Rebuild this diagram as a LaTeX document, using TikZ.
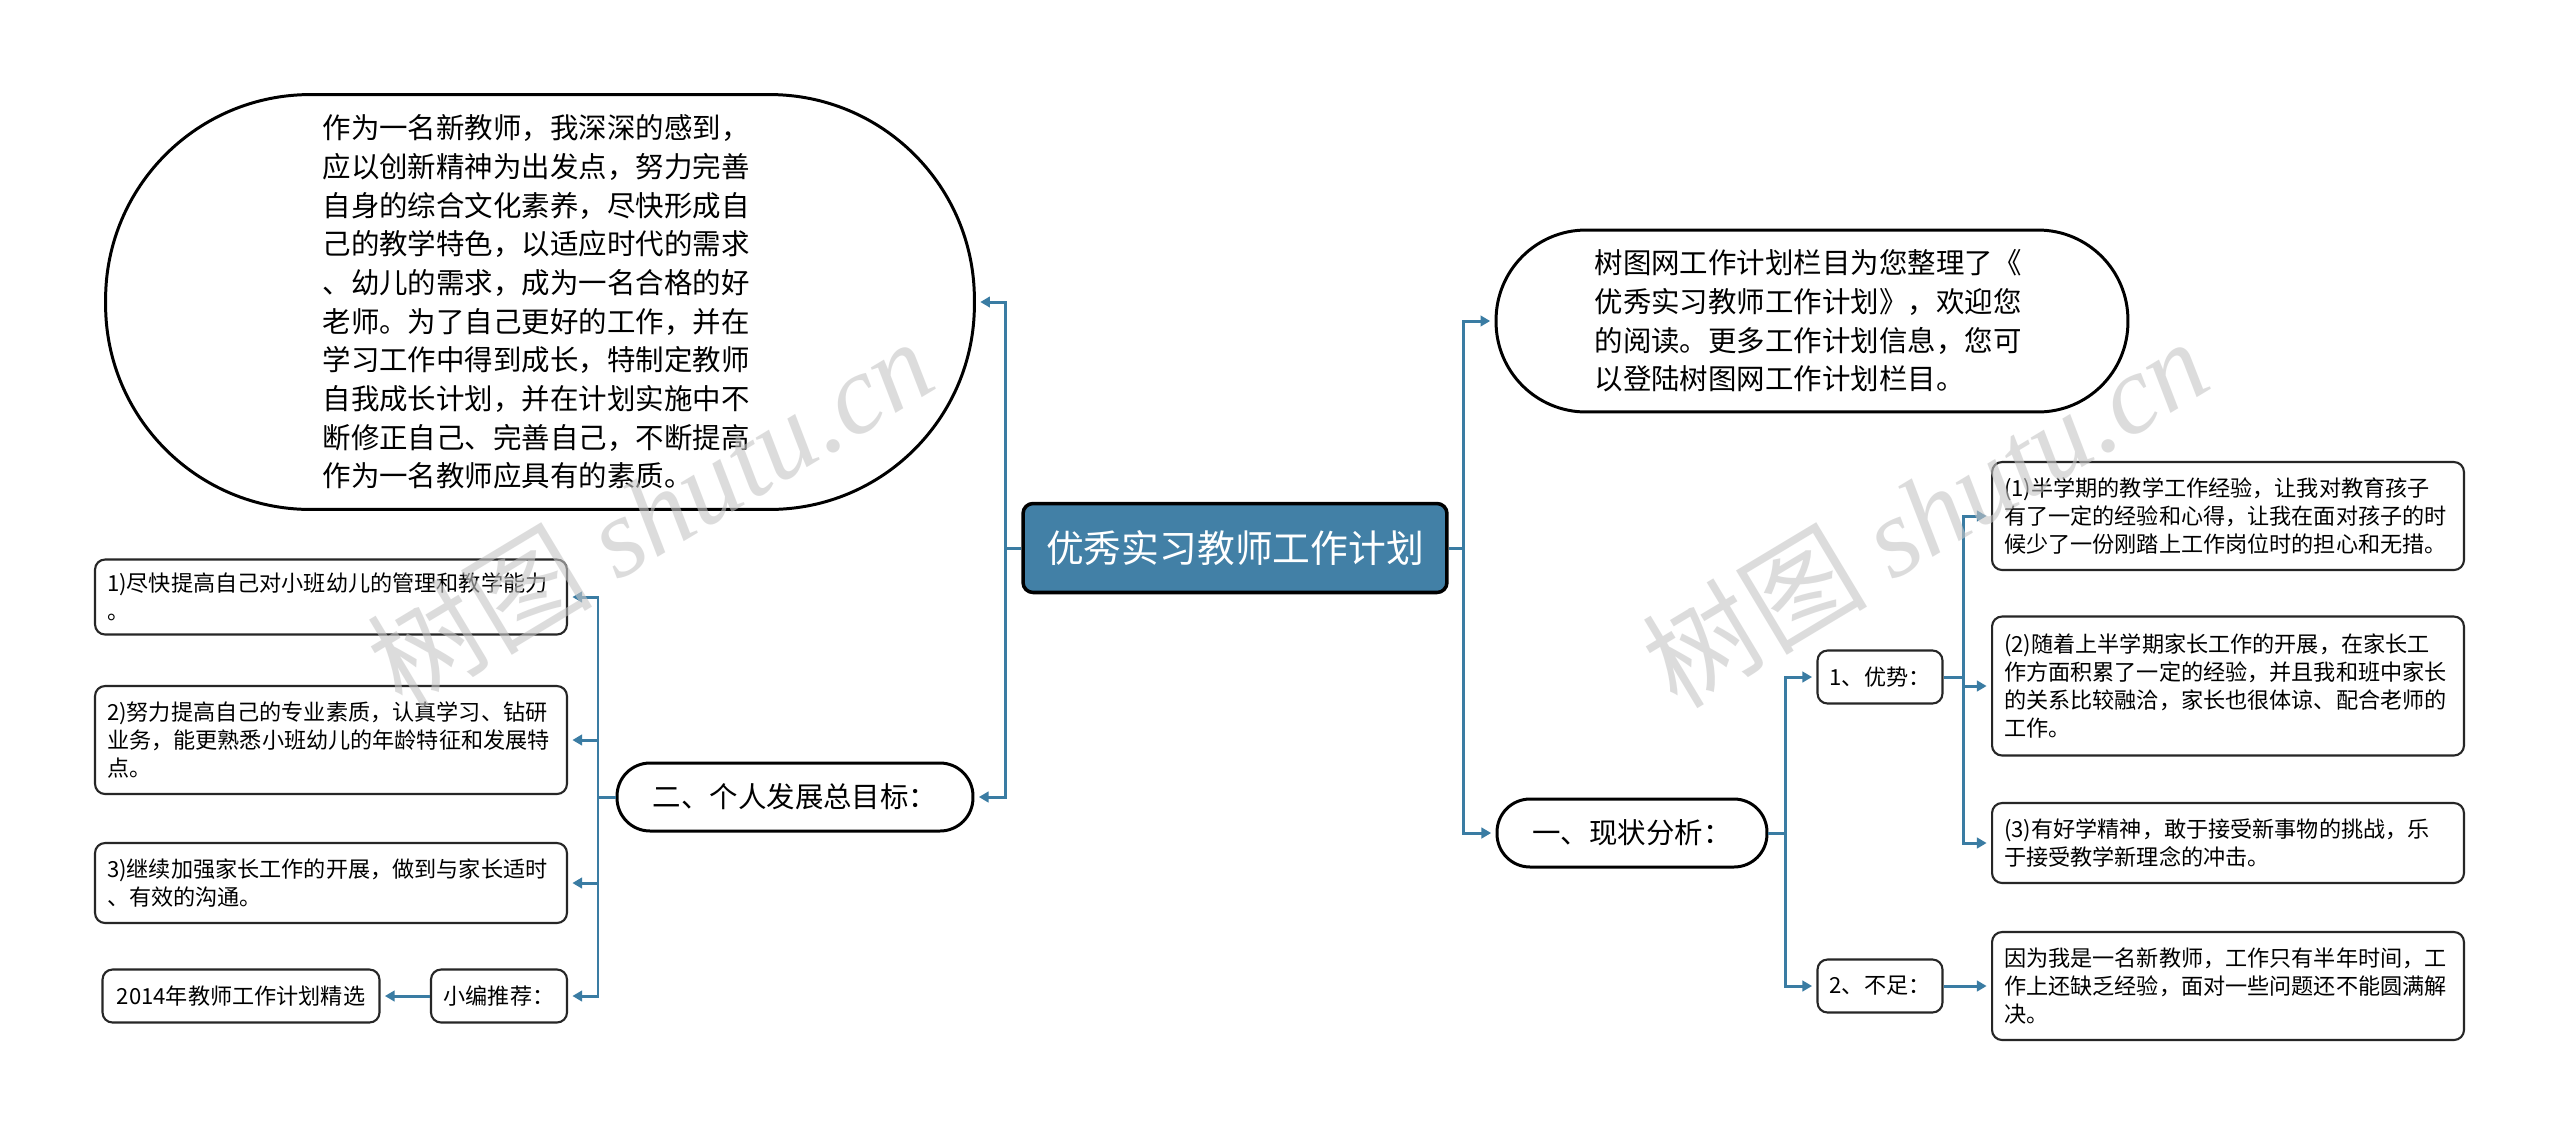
\documentclass[tikz,border=0pt]{standalone}
\usepackage{fontspec}
\setmainfont{Noto Sans CJK SC}
\newfontfamily\wmfont{Liberation Serif}
\usepackage{xcolor}
\usetikzlibrary{arrows.meta}

\definecolor{rootblue}{RGB}{66,128,166}
\definecolor{linkblue}{RGB}{58,124,163}

\begin{document}
\begin{tikzpicture}[x=0.02cm, y=-0.02cm,
  every node/.style={inner sep=0pt, font=\fontsize{12.6}{15.9}\selectfont},
  rootbox/.style={draw=black, line width=2pt, fill=rootblue, text=white,
    rounded corners=0.2cm, minimum width=8.48cm, minimum height=1.78cm,
    font=\fontsize{21.5}{26}\selectfont},
  notebox/.style={draw=black, line width=1.7pt, fill=white, align=left,
    text width=8.7cm, font=\fontsize{16.2}{22}\selectfont},
  branchbox/.style={draw=black, line width=1.7pt, fill=white,
    minimum height=1.36cm, rounded corners=0.66cm,
    font=\fontsize{16.2}{20}\selectfont},
  leafbox/.style={draw=black!85, line width=1.2pt, fill=white,
    rounded corners=0.2cm, text width=8.96cm, inner xsep=0.24cm, align=left},
  tagbox/.style={draw=black!85, line width=1.2pt, fill=white,
    rounded corners=0.2cm, minimum height=1.06cm},
  link/.style={draw=linkblue, line width=1.7pt},
  arrowlink/.style={link, -{Triangle[length=5.5pt, width=6pt]}, shorten >=2.5pt},
  watermark/.style={text=gray!45, opacity=0.6, rotate=31,
    font=\fontsize{64}{64}\selectfont}
]
  \fill[white] (0,0) rectangle (2560,1137);
  \useasboundingbox (0,0) rectangle (2560,1137);

  % Central topic
  \node[rootbox] (root) at (1235,548) {优秀实习教师工作计划};

  % Left side
  \node[notebox, minimum width=17.38cm, minimum height=8.3cm,
        rounded corners=4.1cm] (intro) at (540,302) {
    作为一名新教师，我深深的感到，\\
    应以创新精神为出发点，努力完善\\
    自身的综合文化素养，尽快形成自\\
    己的教学特色，以适应时代的需求\\
    、幼儿的需求，成为一名合格的好\\
    老师。为了自己更好的工作，并在\\
    学习工作中得到成长，特制定教师\\
    自我成长计划，并在计划实施中不\\
    断修正自己、完善自己，不断提高\\
    作为一名教师应具有的素质。};
  \node[branchbox, minimum width=7.12cm] (goal) at (795,797) {二、个人发展总目标：};

  \node[leafbox, minimum height=1.5cm] (goal1) at (331,597) {
    1)尽快提高自己对小班幼儿的管理和教学能力\\。};
  \node[leafbox, minimum height=2.16cm] (goal2) at (331,740) {
    2)努力提高自己的专业素质，认真学习、钻研\\
    业务，能更熟悉小班幼儿的年龄特征和发展特\\
    点。};
  \node[leafbox, minimum height=1.6cm] (goal3) at (331,883) {
    3)继续加强家长工作的开展，做到与家长适时\\
    、有效的沟通。};
  \node[tagbox, minimum width=2.72cm] (rec) at (499,996) {小编推荐：};
  \node[tagbox, minimum width=5.54cm] (pick) at (241,996) {2014年教师工作计划精选};

  % Right side
  \node[notebox, minimum width=12.64cm, minimum height=3.64cm,
        rounded corners=1.8cm] (guide) at (1812,321) {
    树图网工作计划栏目为您整理了《\\
    优秀实习教师工作计划》，欢迎您\\
    的阅读。更多工作计划信息，您可\\
    以登陆树图网工作计划栏目。};
  \node[branchbox, minimum width=5.4cm] (state) at (1632,833) {一、现状分析：};

  \node[tagbox, minimum width=2.5cm] (adv) at (1880,677) {1、优势：};
  \node[tagbox, minimum width=2.5cm] (lack) at (1880,986) {2、不足：};

  \node[leafbox, minimum height=2.16cm] (adv1) at (2228,516) {
    (1)半学期的教学工作经验，让我对教育孩子\\
    有了一定的经验和心得，让我在面对孩子的时\\
    候少了一份刚踏上工作岗位时的担心和无措。};
  \node[leafbox, minimum height=2.78cm] (adv2) at (2228,686) {
    (2)随着上半学期家长工作的开展，在家长工\\
    作方面积累了一定的经验，并且我和班中家长\\
    的关系比较融洽，家长也很体谅、配合老师的\\
    工作。};
  \node[leafbox, minimum height=1.6cm] (adv3) at (2228,843) {
    (3)有好学精神，敢于接受新事物的挑战，乐\\
    于接受教学新理念的冲击。};
  \node[leafbox, minimum height=2.16cm] (lack1) at (2228,986) {
    因为我是一名新教师，工作只有半年时间，工\\
    作上还缺乏经验，面对一些问题还不能圆满解\\
    决。};

  % Trunk lines
  \coordinate (ltrunk) at (1005,0);
  \coordinate (rtrunk) at (1463,0);
  \coordinate (gtrunk) at (598,0);
  \coordinate (strunk) at (1785,0);
  \coordinate (atrunk) at (1963,0);

  \draw[link] (root.west) -- (root.west -| ltrunk);
  \draw[arrowlink] (root.west -| ltrunk) |- (intro.east);
  \draw[arrowlink] (root.west -| ltrunk) |- (goal.east);

  \draw[link] (goal.west) -- (goal.west -| gtrunk);
  \foreach \n in {goal1,goal2,goal3,rec}
    \draw[arrowlink] (goal.west -| gtrunk) |- (\n.east);
  \draw[arrowlink] (rec.west) -- (pick.east);

  \draw[link] (root.east) -- (root.east -| rtrunk);
  \draw[arrowlink] (root.east -| rtrunk) |- (guide.west);
  \draw[arrowlink] (root.east -| rtrunk) |- (state.west);

  \draw[link] (state.east) -- (state.east -| strunk);
  \draw[arrowlink] (state.east -| strunk) |- (adv.west);
  \draw[arrowlink] (state.east -| strunk) |- (lack.west);

  \draw[link] (adv.east) -- (adv.east -| atrunk);
  \foreach \n in {adv1,adv2,adv3}
    \draw[arrowlink] (adv.east -| atrunk) |- (\n.west);
  \draw[arrowlink] (lack.east) -- (lack1.west);

  % Watermarks
  \node[watermark] (wmleft) at (650,512) {树图 {\wmfont\itshape shutu.cn}};
  \node[watermark] (wmright) at (1925,512) {树图 {\wmfont\itshape shutu.cn}};
\end{tikzpicture}
\end{document}
